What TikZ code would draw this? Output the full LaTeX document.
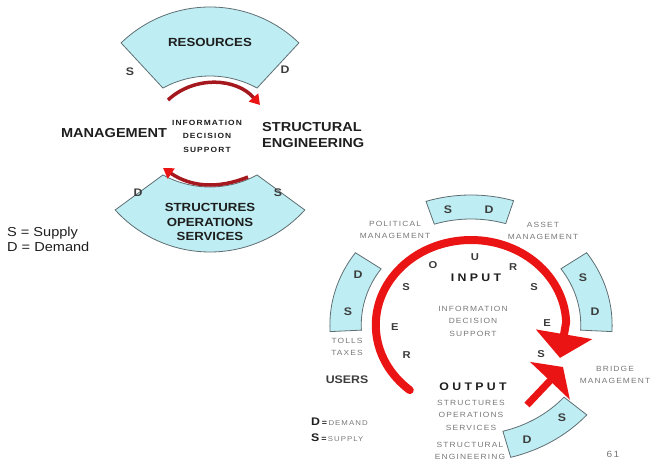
\documentclass[tikz,border=0pt]{standalone}
\usepackage{fontspec}
\setmainfont{Liberation Sans}[FakeStretch=1.12]
\newfontfamily\spacedfont{Liberation Sans}[FakeStretch=1.12,LetterSpace=15]
\newfontfamily\widefont{Liberation Sans}[FakeStretch=1.12,LetterSpace=30]
\usetikzlibrary{arrows.meta}

\definecolor{ringcyan}{RGB}{190,238,243}
\definecolor{ringedge}{RGB}{95,110,115}
\definecolor{arrowdark}{RGB}{165,25,30}
\definecolor{arrowred}{RGB}{235,20,20}
\definecolor{inkblack}{RGB}{30,30,30}
\definecolor{inkgray}{RGB}{60,60,60}
\definecolor{notegray}{RGB}{120,120,120}

\tikzset{
    bandfill/.style =   {fill=ringcyan,
                    draw=ringedge,
                    line width=0.8pt},
    bigword/.style =    {font=\fontsize{13}{16}\selectfont\bfseries,
                    text=inkblack,
                    align=left,
                    inner sep=0pt},
    bandword/.style =   {font=\fontsize{11.8}{14.5}\selectfont\bfseries,
                    text=inkblack,
                    align=center,
                    inner sep=0pt},
    sdletter/.style =   {font=\fontsize{11}{13}\selectfont\bfseries,
                    text=inkgray,
                    inner sep=0pt},
    tinybold/.style =   {font=\spacedfont\fontsize{7.5}{13.5}\selectfont\bfseries,
                    text=inkblack,
                    align=center,
                    inner sep=0pt},
    keytext/.style =    {font=\fontsize{13}{15}\selectfont,
                    text=inkblack,
                    align=left,
                    inner sep=0pt},
    grayword/.style =   {font=\spacedfont\fontsize{7.5}{12.5}\selectfont,
                    text=notegray,
                    align=center,
                    inner sep=0pt},
    flowword/.style =   {font=\widefont\fontsize{11}{13}\selectfont\bfseries,
                    text=inkblack,
                    inner sep=0pt},
    ringletter/.style = {font=\fontsize{10}{12}\selectfont\bfseries,
                    text=inkgray,
                    inner sep=0pt},
    shortarc/.style =   {line width=3.5pt,
                    draw=arrowdark,
                    -{Triangle[width=12pt,length=10pt,color=arrowred]}},
    mainline/.style =   {line width=8pt,
                    draw=arrowred,
                    line cap=round},
    mainarc/.style =    {mainline,
                    -{Triangle[width=56pt,length=24pt]}},
    feedarrow/.style =  {line width=7pt,
                    draw=arrowred,
                    -{Triangle[width=54pt,length=19pt]}}
}

\begin{document}
\begin{tikzpicture}[x=1pt,y=1pt]
    \useasboundingbox (0,0) rectangle (652,463);
    \clip (0,0) rectangle (652,463);

    % left picture: two bands round the middle
    \draw[bandfill] ([shift={(210,328)}]134:128) arc[start angle=134, end angle=46, radius=128]
        -- ([shift={(210,289)}]61.3:98) arc[start angle=61.3, end angle=118.7, radius=98] -- cycle;
    \draw[bandfill] ([shift={(210,339)}]222.2:128) arc[start angle=222.2, end angle=317.8, radius=128]
        -- ([shift={(210,374)}]298.7:98) arc[start angle=298.7, end angle=241.3, radius=98] -- cycle;

    \node[bandword]     (res)   at (210,421)    {RESOURCES};
    \node[sdletter]     (s1)    at (130,391)    {S};
    \node[sdletter]     (d1)    at (285,393)    {D};
    \node[bigword]      (mgmt)  at (114,330)    {MANAGEMENT};
    \node[tinybold]     (info)  at (207,327)    {INFORMATION\\DECISION\\SUPPORT};
    \node[bigword]      (eng)   [anchor=west] at (262,328) {STRUCTURAL\\ENGINEERING};
    \node[sdletter]     (d2)    at (138,270)    {D};
    \node[sdletter]     (s2)    at (278,270)    {S};
    \node[bandword]     (sos)   at (210,241)    {STRUCTURES\\OPERATIONS\\SERVICES};
    \node[keytext]      (key)   [anchor=west] at (7,224) {S = Supply\\D = Demand};

    \coordinate (topin)  at (168,363);
    \coordinate (topout) at (260,358);
    \coordinate (botin)  at (248,286);
    \coordinate (botout) at (163,295);
    \draw[shortarc] (topin) to[bend left=46] (topout);
    \draw[shortarc] (botin) to[bend left=28] (botout);

    % right picture: the ring of bands, letters and the big red loop
    \begin{scope}[shift={(471,138)}, xscale=1.12]
        \draw[bandfill] (73:130) arc[start angle=73, end angle=108, radius=130]
            -- (108:106) arc[start angle=108, end angle=73, radius=106] -- cycle;
        \draw[bandfill] (145:126) arc[start angle=145, end angle=183, radius=126]
            -- (183:98) arc[start angle=183, end angle=145, radius=98] -- cycle;
        \draw[bandfill] (-3:126) arc[start angle=-3, end angle=35, radius=126]
            -- (35:98) arc[start angle=35, end angle=-3, radius=98] -- cycle;
        \draw[bandfill] (-75:137) arc[start angle=-75, end angle=-41, radius=137]
            -- (-41:110) arc[start angle=-41, end angle=-75, radius=110] -- cycle;

        \node[ringletter] (l1) at (208:65)   {R};
        \node[ringletter] (l2) at (182:68)   {E};
        \node[ringletter] (l3) at (147:69)   {S};
        \node[ringletter] (l4) at (119.5:69) {O};
        \node[ringletter] (l5) at (87:68)    {U};
        \node[ringletter] (l6) at (57:69)    {R};
        \node[ringletter] (l7) at (34:68)    {S};
        \node[ringletter] (l8) at (2:68)     {E};
        \node[ringletter] (l9) at (-25:69)   {S};

        \coordinate (loopstart) at (230:85);
        \coordinate (loopend)   at (2:85);
        \coordinate (looptip)   at (-22.5:86);
        \draw[mainline] (loopstart) arc[start angle=230, end angle=2, radius=85];
        \draw[mainarc] (loopend) -- (looptip);
    \end{scope}

    \node[sdletter]     (rs1)   at (448,253)    {S};
    \node[sdletter]     (rd1)   at (489,253)    {D};
    \node[sdletter]     (rd2)   at (358,188)    {D};
    \node[sdletter]     (rs2)   at (348,151)    {S};
    \node[sdletter]     (rs3)   at (583,185)    {S};
    \node[sdletter]     (rd3)   at (595,151)    {D};
    \node[sdletter]     (rd4)   at (527,23)     {D};
    \node[sdletter]     (rs4)   at (562,45)     {S};

    \node[flowword]     (input) at (476,185)    {INPUT};
    \node[grayword]     (rinfo) at (473,142)    {INFORMATION\\DECISION\\SUPPORT};
    \node[flowword]     (output) at (473,76)    {OUTPUT};
    \node[grayword]     (rsos)  at (471,48)     {STRUCTURES\\OPERATIONS\\SERVICES};
    \node[grayword]     (reng)  at (470,12)     {STRUCTURAL\\ENGINEERING};
    \node[grayword]     (pol)   at (395,233)    {POLITICAL\\MANAGEMENT};
    \node[grayword]     (asset) at (543,232)    {ASSET\\MANAGEMENT};
    \node[grayword]     (tolls) at (347,116)    {TOLLS\\TAXES};
    \node[sdletter]     (users) at (347,83)     {USERS};
    \node[grayword]     (bridge) at (615,88)    {BRIDGE\\MANAGEMENT};

    \node[sdletter]     (dkey)  [anchor=west] at (311,41) {\color{inkblack}D\,\fontsize{8}{8}\selectfont=\,{\spacedfont\mdseries\fontsize{7}{8}\selectfont\color{notegray}DEMAND}};
    \node[sdletter]     (skey)  [anchor=west] at (311,25) {\color{inkblack}S\,\fontsize{8}{8}\selectfont=\,{\spacedfont\mdseries\fontsize{7}{8}\selectfont\color{notegray}SUPPLY}};
    \node[grayword]     (page)  at (613,9)      {\fontsize{9}{9}\selectfont 61};

    \coordinate (outtail) at (527,58);
    \coordinate (outhead) at (563,96);
    \draw[feedarrow] (outtail) -- (outhead);
\end{tikzpicture}
\end{document}
